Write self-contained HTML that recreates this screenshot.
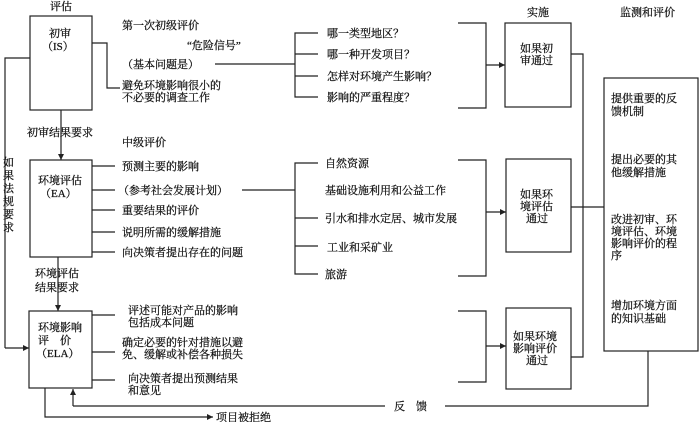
<!DOCTYPE html>
<html><head><meta charset="utf-8"><style>
html,body{margin:0;padding:0;background:#fff;}
svg{display:block;}
text{font-family:"Liberation Serif","Noto Serif CJK SC","Noto Sans CJK SC",serif;font-size:11px;fill:#111;stroke:#111;stroke-width:0.25;}
</style></head><body>
<svg width="700" height="422" viewBox="0 0 700 422" xmlns="http://www.w3.org/2000/svg">
<defs><marker id="a" markerWidth="6" markerHeight="6" refX="5" refY="3" orient="auto"><path d="M0,0.5 L5,3 L0,5.5z" fill="#222"/></marker></defs>
<g stroke="#222" stroke-width="1.2" fill="none">
<rect x="30" y="16" width="62" height="94"/>
<rect x="30" y="160" width="62" height="97"/>
<rect x="29" y="311" width="63" height="77"/>
<rect x="505" y="23" width="66" height="84"/>
<rect x="506" y="159" width="65" height="93"/>
<rect x="506" y="308" width="65" height="81"/>
<rect x="604" y="78" width="94" height="273"/>
<polyline points="92,43 107,43 107,88 120,88"/>
<line x1="215" y1="64" x2="295" y2="64"/>
<polyline points="318,33 295,33 295,97 318,97"/>
<line x1="295" y1="54" x2="318" y2="54"/>
<line x1="295" y1="76" x2="318" y2="76"/>
<polyline points="30,58 5,58 5,348" />
<line x1="5" y1="348" x2="29" y2="348" marker-end="url(#a)"/>
<line x1="61" y1="110" x2="61" y2="160" marker-end="url(#a)"/>
<line x1="58" y1="257" x2="58" y2="311" marker-end="url(#a)"/>
<line x1="92" y1="166" x2="115" y2="166"/>
<line x1="92" y1="190" x2="115" y2="190"/>
<line x1="92" y1="210" x2="115" y2="210"/>
<line x1="92" y1="232" x2="115" y2="232"/>
<line x1="92" y1="252" x2="115" y2="252"/>
<line x1="242" y1="190" x2="295" y2="190"/>
<polyline points="318,163 295,163 295,274 318,274"/>
<line x1="295" y1="218" x2="318" y2="218"/>
<line x1="295" y1="246" x2="318" y2="246"/>
<line x1="92" y1="315" x2="115" y2="315"/>
<line x1="92" y1="352" x2="115" y2="352"/>
<line x1="92" y1="380" x2="115" y2="380"/>
<polyline points="458,23 486,23 486,108 458,108"/>
<line x1="486" y1="65" x2="505" y2="65" marker-end="url(#a)"/>
<polyline points="458,160 486,160 486,276 458,276"/>
<line x1="486" y1="212" x2="506" y2="212" marker-end="url(#a)"/>
<polyline points="458,311 486,311 486,382 458,382"/>
<line x1="486" y1="346" x2="506" y2="346" marker-end="url(#a)"/>
<polyline points="571,54 583,54 583,357 571,357"/>
<line x1="571" y1="207" x2="604" y2="207"/>
<polyline points="648,351 648,406 445,406"/>
<polyline points="385,406 73,406"/>
<line x1="73" y1="406" x2="73" y2="389" marker-end="url(#a)"/>
<polyline points="45,388 45,417 213,417" marker-end="url(#a)"/>
</g>
<text x="50" y="10">评估</text>
<text x="49" y="37">初审</text>
<text x="42" y="50">（IS）</text>
<text x="122" y="29">第一次初级评价</text>
<text x="187" y="49">“危险信号”</text>
<text x="122" y="68">（基本问题是）</text>
<text x="122" y="89">避免环境影响很小的</text>
<text x="122" y="101">不必要的调查工作</text>
<text x="327" y="37">哪一类型地区？</text>
<text x="327" y="58">哪一种开发项目？</text>
<text x="327" y="80">怎样对环境产生影响？</text>
<text x="327" y="101">影响的严重程度？</text>
<text x="27" y="136">初审结果要求</text>
<text x="122" y="146">中级评价</text>
<text x="38" y="184">环境评估</text>
<text x="40" y="197">（EA）</text>
<text x="122" y="170">预测主要的影响</text>
<text x="118" y="194">（参考社会发展计划）</text>
<text x="122" y="214">重要结果的评价</text>
<text x="122" y="236">说明所需的缓解措施</text>
<text x="122" y="256">向决策者提出存在的问题</text>
<text x="325" y="167">自然资源</text>
<text x="325" y="194">基础设施利用和公益工作</text>
<text x="325" y="222">引水和排水定居、城市发展</text>
<text x="327" y="251">工业和采矿业</text>
<text x="325" y="278">旅游</text>
<g>
<text x="3" y="166">如</text><text x="3" y="179">果</text><text x="3" y="192">法</text><text x="3" y="205">规</text><text x="3" y="218">要</text><text x="3" y="231">求</text>
</g>
<text x="35" y="277">环境评估</text>
<text x="35" y="291">结果要求</text>
<text x="38" y="331">环境影响</text>
<text x="38" y="344">评　价</text>
<text x="36" y="357">（ELA）</text>
<text x="128" y="314">评述可能对产品的影响</text>
<text x="128" y="326">包括成本问题</text>
<text x="122" y="346">确定必要的针对措施以避</text>
<text x="122" y="358">免、缓解或补偿各种损失</text>
<text x="128" y="382">向决策者提出预测结果</text>
<text x="128" y="394">和意见</text>
<text x="216" y="421">项目被拒绝</text>
<text x="394" y="410">反　馈</text>
<text x="527" y="16">实施</text>
<text x="620" y="16">监测和评价</text>
<text x="520" y="52">如果初</text>
<text x="520" y="64">审通过</text>
<text x="520" y="198">如果环</text>
<text x="520" y="210">境评估</text>
<text x="526" y="222">通过</text>
<text x="513" y="340">如果环境</text>
<text x="513" y="352">影响评价</text>
<text x="526" y="364">通过</text>
<text x="611" y="102">提供重要的反</text>
<text x="611" y="115">馈机制</text>
<text x="611" y="163">提出必要的其</text>
<text x="611" y="176">他缓解措施</text>
<text x="611" y="223">改进初审、环</text>
<text x="611" y="235">境评估、环境</text>
<text x="611" y="247">影响评价的程</text>
<text x="611" y="259">序</text>
<text x="611" y="309">增加环境方面</text>
<text x="611" y="322">的知识基础</text>
</svg>
</body></html>
